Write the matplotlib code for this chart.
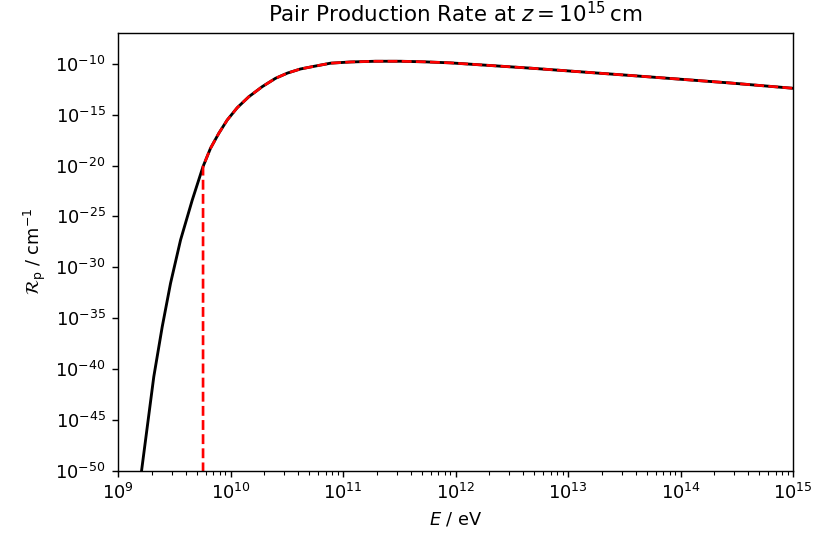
import numpy as np
import matplotlib
matplotlib.use("Agg")
import matplotlib.pyplot as plt
from matplotlib.ticker import LogLocator, NullLocator, FixedLocator, LogFormatterSciNotation

# log10(E / eV) and log10(R_p / cm^-1)
logE_black = [9.209, 9.318, 9.393, 9.467, 9.556, 9.660, 9.756, 9.822, 9.896,
              9.971, 10.060, 10.163, 10.282, 10.400, 10.507, 10.622, 10.756,
              10.889, 11.067, 11.289, 11.511, 11.733, 11.956, 12.667, 13.556,
              14.444, 15.0]
logR_black = [-50.06, -40.78, -35.86, -31.58, -27.32, -23.39, -20.09, -18.30,
              -16.82, -15.51, -14.30, -13.22, -12.23, -11.41, -10.89, -10.49,
              -10.20, -9.92, -9.80, -9.73, -9.73, -9.79, -9.89, -10.41, -11.13,
              -11.87, -12.39]

logE_red = [9.756, 9.756, 9.822, 9.896, 9.971, 10.060, 10.163, 10.282,
            10.400, 10.507, 10.622, 10.756, 10.889, 11.067, 11.289, 11.511,
            11.733, 11.956, 12.667, 13.556, 14.444, 15.0]
logR_red = [-60.0, -20.09, -18.30, -16.82, -15.51, -14.30, -13.22, -12.23,
            -11.41, -10.89, -10.49, -10.20, -9.92, -9.80, -9.73, -9.73,
            -9.79, -9.89, -10.41, -11.13, -11.87, -12.39]

E_black = 10.0 ** np.array(logE_black)
R_black = 10.0 ** np.array(logR_black)
E_red = 10.0 ** np.array(logE_red)
R_red = 10.0 ** np.array(logR_red)

y_ticks = [1e-50, 1e-45, 1e-40, 1e-35, 1e-30, 1e-25, 1e-20, 1e-15, 1e-10]

dpi = 128
fig = plt.figure(figsize=(817 / dpi, 542 / dpi), dpi=dpi)
ax = fig.add_axes([118 / 817, 1 - 470.5 / 542, (793 - 118) / 817, (470.5 - 33) / 542])

ax.plot(E_black, R_black, color="black", lw=1.6)
ax.plot(E_red, R_red, color="red", lw=1.5, ls="--")

ax.set_xscale("log")
ax.set_yscale("log")
ax.set_xlim(1e9, 1e15)
ax.set_ylim(1e-50, 10 ** (-6.95))
ax.xaxis.set_major_locator(LogLocator(base=10, numticks=20))
ax.xaxis.set_minor_locator(LogLocator(base=10, subs=np.arange(2, 10), numticks=100))
ax.yaxis.set_major_locator(FixedLocator(y_ticks))
ax.yaxis.set_minor_locator(NullLocator())
ax.yaxis.set_major_formatter(LogFormatterSciNotation())

ax.set_xlabel(r"$E$ / eV")
ax.set_ylabel(r"$\mathcal{R}_\mathrm{p}$ / cm$^{-1}$")
ax.set_title(r"Pair Production Rate at $z = 10^{15}\,\mathrm{cm}$")

fig.savefig("out.png", dpi=dpi)
